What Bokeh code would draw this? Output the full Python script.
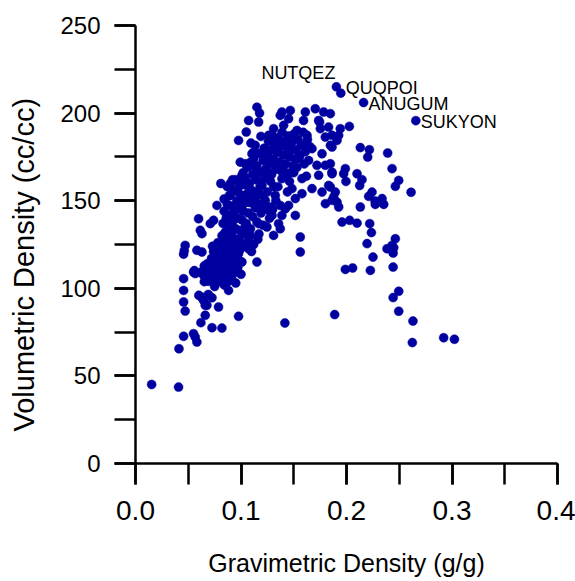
import math
from bokeh.plotting import figure
from bokeh.models import (SingleIntervalTicker, FixedTicker, Range1d, Title, LinearAxis,
                          PrintfTickFormatter, ColumnDataSource)
from bokeh.embed import file_html
from bokeh.resources import INLINE
from bokeh.core.properties import value

# ---------------- data ----------------
# sparse points on the left / lower tail
tail_x = [0.0153, 0.0408, 0.0412, 0.0456, 0.0550, 0.0566, 0.0582, 0.0620, 0.0661, 0.0725,
          0.0819, 0.0977, 0.0471, 0.0456, 0.0456, 0.0600, 0.0625, 0.0645, 0.0725, 0.0661,
          0.0690, 0.0787, 0.0882, 0.0456, 0.0550, 0.0566, 0.0645, 0.0456, 0.0462, 0.0471,
          0.0582, 0.0630, 0.0598, 0.0614, 0.0630, 0.0709, 0.0740, 0.0772, 0.0809, 0.0772,
          0.0851, 0.0708, 0.0772, 0.0835, 0.0820, 0.0898, 0.0652, 0.0652, 0.0558, 0.0617,
          0.0677]
tail_y = [45.1, 43.6, 65.5, 72.6, 74.1, 72.2, 69.3, 80.4, 84.6, 77.5,
          77.3, 84.0, 87.0, 92.2, 98.8, 96.0, 95.0, 93.1, 94.6, 90.3,
          96.5, 89.3, 98.8, 105.5, 109.3, 108.4, 107.4, 119.5, 121.5, 124.5,
          121.7, 120.7, 139.7, 133.1, 131.2, 136.9, 138.8, 147.3, 159.8, 103.6,
          101.7, 110.2, 116.0, 117.8, 125.5, 153.0, 112.8, 103.8, 110.1, 109.1,
          90.3]

# top of the cloud
top_x = [0.1151, 0.1176, 0.1167, 0.1072, 0.1050, 0.1189, 0.0977, 0.1094, 0.1119, 0.1262,
         0.1325, 0.1388, 0.1467, 0.1451, 0.1404, 0.1531, 0.1610, 0.1704, 0.1783, 0.1593,
         0.1736, 0.1752, 0.1830, 0.1626, 0.1799, 0.1847, 0.1309, 0.1863, 0.1372, 0.1847,
         0.1745, 0.1040]
top_y = [203.4, 200.0, 194.9, 195.8, 189.2, 186.7, 184.4, 182.9, 177.7, 187.3,
         184.4, 200.6, 201.5, 196.8, 193.0, 190.1, 200.6, 202.5, 200.6, 195.8,
         195.8, 191.1, 192.0, 187.3, 186.3, 181.6, 191.1, 187.3, 198.7, 199.7,
         194.9, 171.1]

# right-hand scatter
right_x = [0.2027, 0.1941, 0.1926, 0.1910, 0.2131, 0.2217, 0.2201, 0.2390, 0.1863, 0.1989,
           0.1973, 0.2100, 0.2147, 0.2125, 0.1863, 0.2432, 0.2495, 0.2463, 0.2612, 0.2242,
           0.2210, 0.2337, 0.2273, 0.2353, 0.2131, 0.1926, 0.1878, 0.1910, 0.1847, 0.1894,
           0.1958, 0.2030, 0.2100, 0.2220, 0.2236, 0.2195, 0.2463, 0.2432, 0.2384, 0.2448,
           0.2442, 0.2251, 0.2226, 0.1989, 0.2058, 0.2442, 0.2495, 0.2442, 0.2495, 0.2630,
           0.2624, 0.2921, 0.3023, 0.1888, 0.1416, 0.2271, 0.1847, 0.1800, 0.1831, 0.1995,
           0.1863, 0.0985]
right_y = [192.4, 191.1, 187.3, 184.4, 180.3, 179.1, 174.9, 177.2, 180.6, 168.3,
           165.4, 165.4, 162.0, 158.7, 166.3, 168.3, 161.6, 158.2, 154.8, 154.9,
           152.5, 151.2, 147.9, 147.9, 146.4, 146.4, 152.1, 149.2, 157.8, 154.9,
           137.8, 138.8, 137.2, 136.9, 131.8, 125.5, 128.3, 124.5, 122.6, 123.2,
           120.1, 117.8, 110.2, 110.8, 111.6, 112.1, 98.3, 94.7, 86.9, 81.3,
           69.0, 71.8, 70.9, 85.0, 80.2, 149.8, 171.1, 148.3, 158.7, 161.0,
           150.2, 115.8]

# middle of the cloud
mid_x = [0.1356, 0.1246, 0.1135, 0.1467, 0.1578, 0.1515, 0.1641, 0.1720, 0.1799, 0.1863,
         0.1736, 0.1673, 0.1768, 0.1325, 0.1262, 0.1135, 0.1009, 0.1388, 0.1578, 0.1483,
         0.1673, 0.1199, 0.1072, 0.0993, 0.1104, 0.1107, 0.1230, 0.1325, 0.1515, 0.1578,
         0.1768, 0.1009, 0.1135, 0.1262, 0.1420, 0.1515, 0.1167, 0.1246, 0.1356, 0.1388,
         0.1309, 0.1562, 0.1562, 0.1088, 0.1072, 0.1009, 0.1151, 0.0977, 0.1040, 0.0962,
         0.1451, 0.1280, 0.1372, 0.1294, 0.1372,
         0.118, 0.122, 0.125, 0.128, 0.131, 0.133, 0.127, 0.121, 0.116, 0.110,
         0.105, 0.098, 0.094, 0.102, 0.097, 0.140, 0.146, 0.150, 0.156, 0.162,
         0.130, 0.135, 0.144, 0.090, 0.095]
mid_y = [177.8, 175.9, 181.6, 178.7, 181.6, 174.0, 173.0, 170.2, 170.2, 165.4,
         164.5, 179.7, 176.8, 172.0, 166.3, 169.2, 164.5, 162.6, 162.6, 156.9,
         156.9, 158.7, 158.7, 172.0, 176.8, 152.1, 150.2, 153.0, 151.2, 154.0,
         154.9, 145.4, 146.4, 144.5, 145.4, 141.6, 136.9, 135.0, 136.9, 141.6,
         130.2, 129.3, 120.7, 130.2, 122.6, 115.0, 115.0, 119.8, 135.0, 110.2,
         147.3, 146.4, 147.3, 141.6, 134.0,
         158, 147, 155, 161, 158, 150, 140, 136, 128, 121,
         124, 128, 128, 150, 155, 168, 161, 166, 176, 164,
         145, 158, 155, 160, 162]

# dense core of the cloud
core_x = [0.066, 0.068, 0.069, 0.071, 0.072, 0.073, 0.074, 0.075, 0.076, 0.077,
          0.078, 0.079, 0.080, 0.081, 0.081, 0.082, 0.083, 0.084, 0.084, 0.085,
          0.086, 0.087, 0.088, 0.088, 0.089, 0.090, 0.091, 0.092, 0.093, 0.094,
          0.095, 0.096, 0.097, 0.099, 0.100, 0.078, 0.086, 0.073,
          0.082, 0.083, 0.084, 0.085, 0.086, 0.087, 0.088, 0.088, 0.089, 0.090,
          0.091, 0.091, 0.092, 0.093, 0.093, 0.094, 0.095, 0.096, 0.096, 0.097,
          0.098, 0.099, 0.099, 0.100, 0.101, 0.101, 0.102, 0.103, 0.104, 0.104,
          0.105, 0.106, 0.107, 0.107, 0.108, 0.109, 0.110, 0.111, 0.112, 0.113,
          0.114, 0.115, 0.116, 0.117, 0.118, 0.119, 0.120, 0.087, 0.084, 0.092,
          0.100, 0.102, 0.104, 0.106, 0.108, 0.109, 0.111, 0.112, 0.114, 0.115,
          0.117, 0.118, 0.119, 0.121, 0.122, 0.123, 0.124, 0.125, 0.126, 0.127,
          0.128, 0.129, 0.130, 0.131, 0.132, 0.133, 0.134, 0.135, 0.136, 0.137,
          0.138, 0.139, 0.140, 0.141, 0.142, 0.144, 0.145, 0.146, 0.148, 0.149,
          0.150, 0.152, 0.154, 0.155, 0.157, 0.159, 0.161, 0.163, 0.165, 0.143,
          0.147, 0.153, 0.160]
core_y = [108, 114, 104, 111, 117, 106, 121, 101, 113, 109,
          119, 104, 115, 110, 122, 106, 117, 102, 112, 120,
          108, 115, 104, 123, 111, 118, 106, 114, 121, 109,
          103, 117, 112, 122, 108, 126, 127, 124,
          130, 137, 144, 132, 140, 148, 128, 135, 153, 142,
          131, 147, 138, 156, 125, 144, 134, 150, 128, 140,
          158, 146, 133, 126, 153, 139, 144, 131, 159, 149,
          137, 154, 127, 143, 149, 134, 156, 141, 125, 151,
          146, 138, 155, 131, 148, 143, 153, 158, 151, 162,
          161, 166, 163, 169, 160, 172, 165, 174, 162, 170,
          177, 166, 161, 173, 180, 168, 163, 176, 184, 171,
          179, 165, 187, 174, 182, 168, 178, 186, 172, 181,
          167, 189, 176, 184, 171, 180, 187, 175, 183, 170,
          188, 179, 185, 174, 182, 189, 178, 185, 181, 164,
          166, 169, 171]

# labelled structures
lab_names = ["NUTQEZ", "QUQPOI", "ANUGUM", "SUKYON"]
lab_x = [0.1904, 0.1946, 0.2162, 0.2657]
lab_y = [215.0, 211.4, 206.0, 195.7]

x_title = "Gravimetric Density (g/g)"
y_title = "Volumetric Density (cc/cc)"

# ---------------- styling ----------------
FONT = "Liberation Sans"
BLUE = "#0000A0"

p = figure(width=575, height=581, output_backend="svg", toolbar_location=None,
           x_range=Range1d(0, 0.4), y_range=Range1d(0, 250),
           min_border_left=135, min_border_right=18, min_border_top=25,
           min_border_bottom=118)
p.outline_line_color = None
p.grid.visible = False

all_x = tail_x + top_x + right_x + mid_x + core_x + lab_x
all_y = tail_y + top_y + right_y + mid_y + core_y + lab_y
p.scatter(all_x, all_y, size=9, fill_color=BLUE, line_color=BLUE, line_width=0.5)

# point labels
right_src = ColumnDataSource(dict(x=lab_x[1:], y=lab_y[1:], t=lab_names[1:],
                                  dx=[5, 5, 5], dy=[-5, 1, 1]))
p.text(x="x", y="y", text="t", source=right_src, x_offset="dx", y_offset="dy",
       text_font=value(FONT), text_font_size="18px", text_align="left",
       text_baseline="middle", text_color="black")
left_src = ColumnDataSource(dict(x=lab_x[:1], y=lab_y[:1], t=lab_names[:1]))
p.text(x="x", y="y", text="t", source=left_src, x_offset=-1, y_offset=-14,
       text_font=value(FONT), text_font_size="18px", text_align="right",
       text_baseline="alphabetic", text_color="black")

for ax in (p.xaxis[0], p.yaxis[0]):
    ax.axis_line_width = 2.5
    ax.major_tick_line_width = 2.5
    ax.minor_tick_line_width = 2.5
    ax.major_tick_in = 0
    ax.minor_tick_in = 0
    ax.major_tick_out = 21
    ax.minor_tick_out = 21
    ax.axis_line_color = "black"
    ax.major_tick_line_color = "black"
    ax.minor_tick_line_color = "black"
    ax.major_label_text_font = FONT
    ax.major_label_text_color = "black"
    ax.axis_label_text_font = FONT
    ax.axis_label_text_font_style = "normal"
    ax.axis_label_text_color = "black"

xa = p.xaxis[0]
xa.ticker = SingleIntervalTicker(interval=0.1, num_minor_ticks=2)
xa.formatter = PrintfTickFormatter(format="%.1f")
xa.major_label_text_font_size = "28px"
xa.major_label_standoff = 16
xa.axis_label = x_title
xa.axis_label_text_font_size = "25px"
xa.axis_label_standoff = 26

ya = p.yaxis[0]
ya.ticker = SingleIntervalTicker(interval=50, num_minor_ticks=2)
ya.major_label_text_font_size = "24px"
ya.major_label_standoff = 14
ya.axis_label = None

# invisible spacer axis (one hidden tick, no visible label) pushing the y title left
spacer = LinearAxis(ticker=FixedTicker(ticks=[125]), axis_line_alpha=0,
                    major_tick_out=13, major_tick_in=0, minor_tick_out=0,
                    minor_tick_in=0, major_tick_line_alpha=0,
                    minor_tick_line_alpha=0, major_label_standoff=0,
                    major_label_text_font_size="1px", major_label_text_alpha=0,
                    major_label_overrides={125: ""})
p.add_layout(spacer, "left")

# y-axis title as a side title (bottom-aligned, shifted up by offset)
p.add_layout(Title(text=y_title, align="left", offset=32, standoff=10,
                   text_font=FONT, text_font_size="29px", text_font_style="normal",
                   text_color="black"), "left")

open("out.html", "w").write(file_html(p, INLINE))
